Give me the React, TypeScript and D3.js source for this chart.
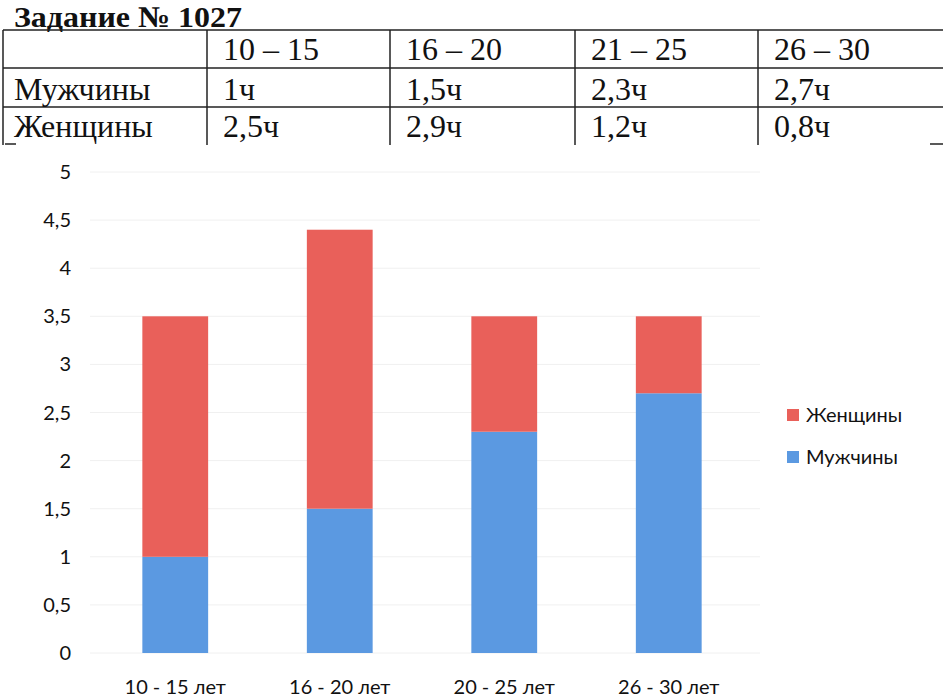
import React from "react";
import * as d3 from "d3";

const title = "Задание № 1027";
const tableHeaders = ["10 – 15", "16 – 20", "21 – 25", "26 – 30"];
const rowLabels = ["Мужчины", "Женщины"];
const tableMen = ["1ч", "1,5ч", "2,3ч", "2,7ч"];
const tableWomen = ["2,5ч", "2,9ч", "1,2ч", "0,8ч"];

const categories = ["10 - 15 лет", "16 - 20 лет", "20 - 25 лет", "26 - 30 лет"];
const men = [1, 1.5, 2.3, 2.7];
const women = [2.5, 2.9, 1.2, 0.8];
const yTicks = [0, 0.5, 1, 1.5, 2, 2.5, 3, 3.5, 4, 4.5, 5];
const seriesNames = ["Мужчины", "Женщины"];
const colors = { Мужчины: "#5b99e1", Женщины: "#e9605a" };

const W = 943;
const H = 697;

export default function App() {
  const x = d3.scaleBand<string>().domain(categories).range([93, 751]).paddingInner(0.6).paddingOuter(0.3);
  const y = d3.scaleLinear().domain([0, 5]).range([653, 172]);

  const rows = categories.map((c, i) => ({ cat: c, Мужчины: men[i], Женщины: women[i] }));
  const stack = d3.stack<any>().keys(seriesNames);
  const layers = stack(rows);

  const fmt = (v: number) => String(v).replace(".", ",");

  const colX = [3, 207, 390, 575, 758, 940];
  const rowY = [30, 68, 107, 145];
  const serif = "'Liberation Serif', 'Times New Roman', serif";
  const sans = "Lato, 'Open Sans', sans-serif";
  const fs = 32;

  return (
    <svg width={W} height={H} style={{ position: "absolute", left: 0, top: 0, background: "#fff" }}>
      <rect x={0} y={0} width={W} height={H} fill="#fff" />
      {/* Title */}
      <text x={14} y={27} fontFamily={serif} fontWeight="bold" fontSize={30} fill="#111" textLength={228} lengthAdjust="spacingAndGlyphs">
        {title}
      </text>
      {/* Table lines */}
      <line x1={colX[0]} x2={W} y1={rowY[0]} y2={rowY[0]} stroke="#222" strokeWidth={1.5} />
      <line x1={colX[0]} x2={W} y1={rowY[1]} y2={rowY[1]} stroke="#222" strokeWidth={1.5} />
      <line x1={colX[0]} x2={W} y1={rowY[2]} y2={rowY[2]} stroke="#222" strokeWidth={1.5} />
      {colX.slice(0, 5).map((cx, i) => (
        <line key={i} x1={cx} x2={cx} y1={rowY[0]} y2={rowY[3]} stroke="#222" strokeWidth={1.5} />
      ))}
      <line x1={5} x2={16} y1={144} y2={144} stroke="#222" strokeWidth={1.5} />
      <line x1={930} x2={943} y1={144} y2={144} stroke="#222" strokeWidth={1.5} />
      {tableHeaders.map((h, i) => (
        <text key={h} x={colX[i + 1] + 16} y={60} fontFamily={serif} fontSize={fs} fill="#111">
          {h}
        </text>
      ))}
      <text x={14} y={100} fontFamily={serif} fontSize={fs} fill="#111">{rowLabels[0]}</text>
      <text x={14} y={137} fontFamily={serif} fontSize={fs} fill="#111">{rowLabels[1]}</text>
      {tableMen.map((v, i) => (
        <text key={"m" + i} x={colX[i + 1] + 16} y={100} fontFamily={serif} fontSize={fs} fill="#111">{v}</text>
      ))}
      {tableWomen.map((v, i) => (
        <text key={"w" + i} x={colX[i + 1] + 16} y={137} fontFamily={serif} fontSize={fs} fill="#111">{v}</text>
      ))}

      {/* Grid */}
      {yTicks.map((t) => (
        <line key={"g" + t} x1={90} x2={760} y1={y(t)} y2={y(t)} stroke="#f0f0f0" strokeWidth={1} />
      ))}
      {yTicks.map((t) => (
        <text key={"t" + t} x={71} y={y(t)} dy="0.35em" textAnchor="end" fontFamily={sans} fontSize={20} fill="#111">
          {fmt(t)}
        </text>
      ))}

      {/* Bars */}
      {layers.map((layer) => (
        <g key={layer.key} fill={(colors as any)[layer.key]}>
          {layer.map((d, i) => (
            <rect
              key={i}
              x={x(categories[i])}
              width={x.bandwidth()}
              y={y(d[1])}
              height={y(d[0]) - y(d[1])}
            />
          ))}
        </g>
      ))}

      {/* X labels */}
      {categories.map((c) => (
        <text key={c} x={(x(c) as number) + x.bandwidth() / 2} y={694} textAnchor="middle" fontFamily={sans} fontSize={20} fill="#111">
          {c}
        </text>
      ))}

      {/* Legend */}
      {["Женщины", "Мужчины"].map((s, i) => (
        <g key={s} transform={`translate(787, ${409 + i * 42})`}>
          <rect x={0} y={0} width={12} height={12} fill={(colors as any)[s]} />
          <text x={19} y={6} dy="0.35em" fontFamily={sans} fontSize={20} fill="#111">{s}</text>
        </g>
      ))}
    </svg>
  );
}
